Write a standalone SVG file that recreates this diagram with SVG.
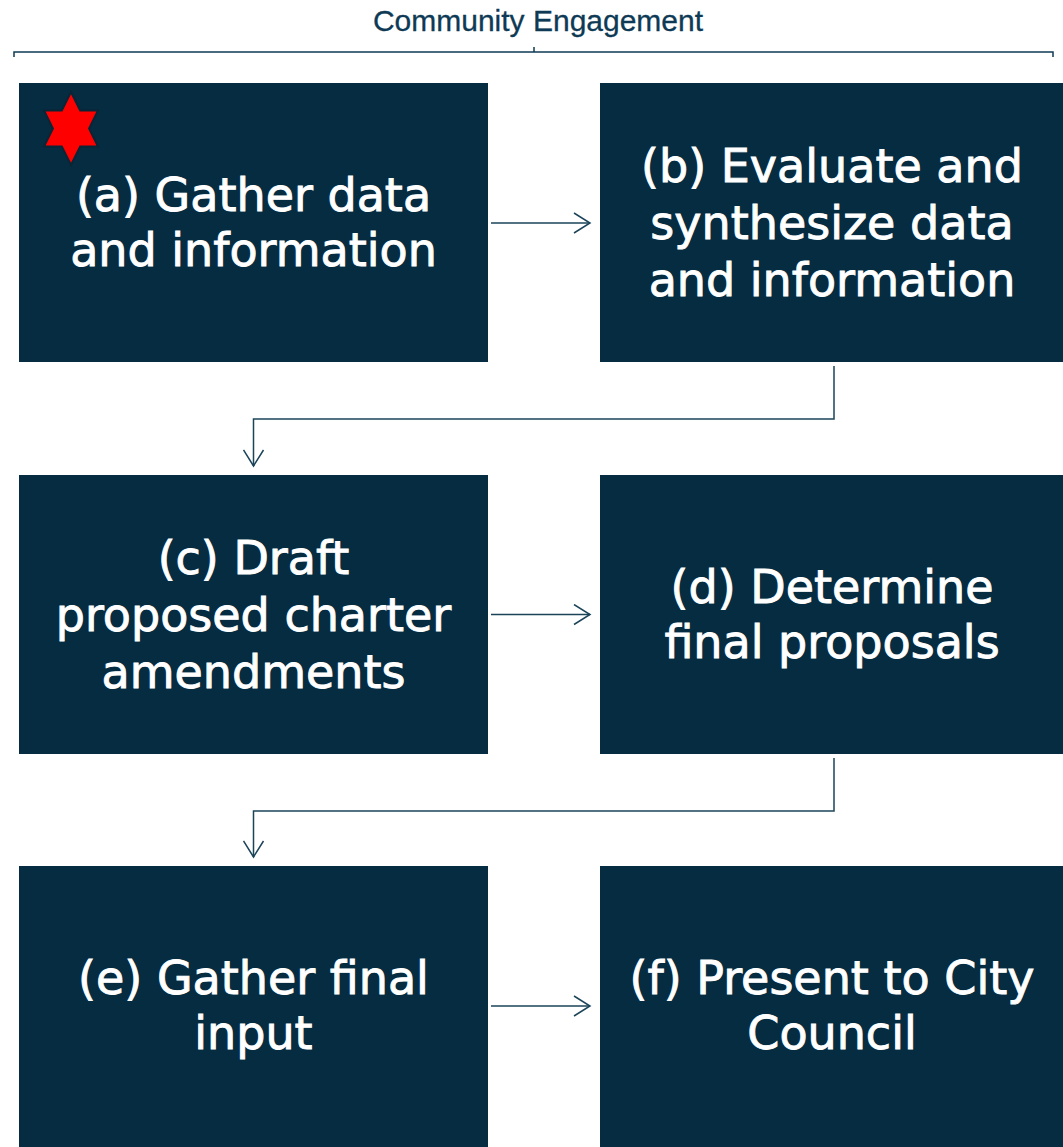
<svg xmlns="http://www.w3.org/2000/svg" width="1063" height="1147" viewBox="0 0 1063 1147">
  <style>
    .box { fill: #052C41; }
    .lbl { font-family: "DejaVu Sans", "Liberation Sans", sans-serif; font-size: 46px; fill: #FFFFFF; stroke: #FFFFFF; stroke-width: 0.9; text-anchor: middle; }
    .hdr { font-family: "Liberation Sans", Arial, sans-serif; font-size: 30px; fill: #0E3A55; stroke: #0E3A55; stroke-width: 0.3; text-anchor: middle; }
    .con { fill: none; stroke: #1B4459; stroke-width: 1.5; }
  </style>
  <defs>
    <marker id="arr" viewBox="0 0 20 22" refX="18" refY="11" markerWidth="20" markerHeight="22" markerUnits="userSpaceOnUse" orient="auto">
      <path d="M2,1 L18,11 L2,21" fill="none" stroke="#1B4459" stroke-width="1.5"/>
    </marker>
  </defs>
  <rect width="1063" height="1147" fill="#FFFFFF"/>

  <g id="header">
    <text class="hdr" x="538" y="31">Community Engagement</text>
    <path d="M14,57 V52 H1053 V57 M534,52 V47" fill="none" stroke="#0E3A55" stroke-width="1.5"/>
  </g>

  <g id="connectors">
    <path class="con" d="M491,223 H590" marker-end="url(#arr)"/>
    <path class="con" d="M834,366 V419 H253.5 V466" marker-end="url(#arr)"/>
    <path class="con" d="M491,614.5 H590" marker-end="url(#arr)"/>
    <path class="con" d="M834,758 V811 H253.5 V857" marker-end="url(#arr)"/>
    <path class="con" d="M491,1006 H590" marker-end="url(#arr)"/>
  </g>

  <g id="node-a">
    <rect class="box" x="19" y="83" width="469" height="279"/>
    <polygon points="71,92 80.2,110.5 98,110.5 89.1,128.5 98,146.5 80.2,146.5 71,165 61.8,146.5 44,146.5 52.9,128.5 44,110.5 61.8,110.5" fill="#FF0000" stroke="#0A2535" stroke-width="2" stroke-linejoin="miter"/>
    <text class="lbl" x="253.5" y="211">(a) Gather data</text>
    <text class="lbl" x="253.5" y="266">and information</text>
  </g>

  <g id="node-b">
    <rect class="box" x="600" y="83" width="463" height="279"/>
    <text class="lbl" x="832" y="182">(b) Evaluate and</text>
    <text class="lbl" x="832" y="239">synthesize data</text>
    <text class="lbl" x="832" y="296">and information</text>
  </g>

  <g id="node-c">
    <rect class="box" x="19" y="475" width="469" height="279"/>
    <text class="lbl" x="253.5" y="574">(c) Draft</text>
    <text class="lbl" x="253.5" y="631">proposed charter</text>
    <text class="lbl" x="253.5" y="688">amendments</text>
  </g>

  <g id="node-d">
    <rect class="box" x="600" y="475" width="463" height="279"/>
    <text class="lbl" x="832" y="603">(d) Determine</text>
    <text class="lbl" x="832" y="658">final proposals</text>
  </g>

  <g id="node-e">
    <rect class="box" x="19" y="866" width="469" height="281"/>
    <text class="lbl" x="253.5" y="994">(e) Gather final</text>
    <text class="lbl" x="253.5" y="1049">input</text>
  </g>

  <g id="node-f">
    <rect class="box" x="600" y="866" width="463" height="281"/>
    <text class="lbl" x="832" y="994">(f) Present to City</text>
    <text class="lbl" x="832" y="1049">Council</text>
  </g>
</svg>
